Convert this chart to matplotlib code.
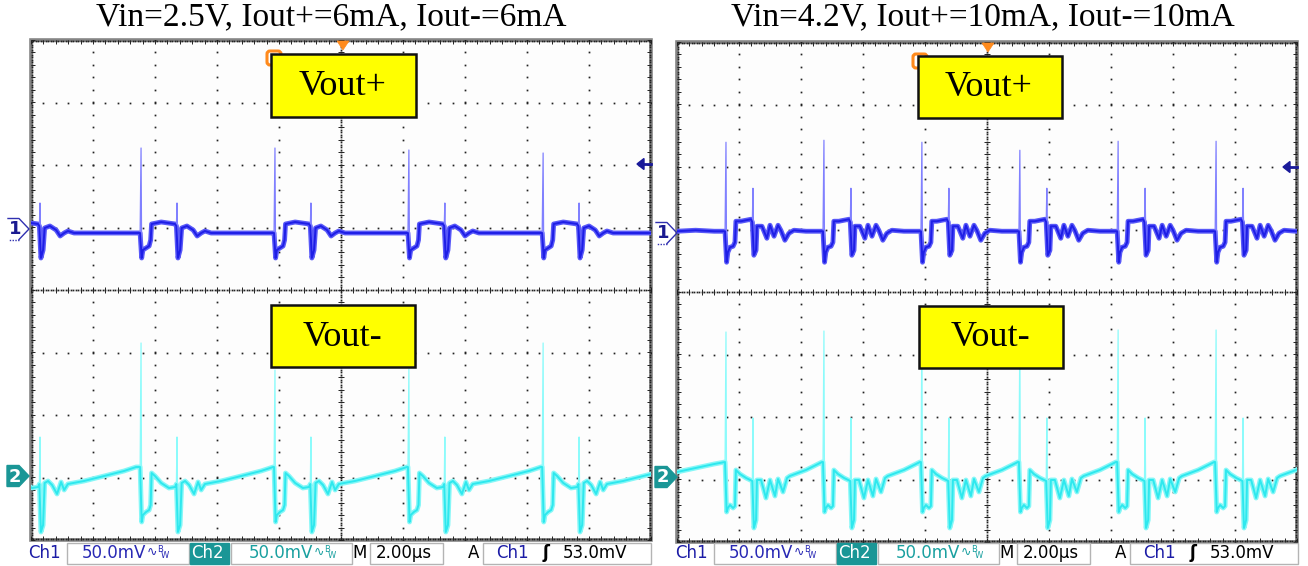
import numpy as np
import matplotlib
matplotlib.use("Agg")
import matplotlib.pyplot as plt
from matplotlib.patches import Rectangle, Polygon, FancyBboxPatch

# ---------------------------------------------------------------- data
titles = ["Vin=2.5V, Iout+=6mA, Iout-=6mA", "Vin=4.2V, Iout+=10mA, Iout-=10mA"]
box_labels = ["Vout+", "Vout-"]
volts_per_div_mv = 50.0
time_per_div_us = 2.00
trigger_level_mv = 53.0
status_ch_scale = "50.0mV"
status_time = "2.00\u00b5s"
status_trig = "53.0mV"

# channel reference positions (divisions from screen centre)
left_offsets_div = [1.00, -3.00]
right_offsets_div = [0.94, -2.96]

# switching events (big spike instants, us from left edge of screen)
left_events_us = [-0.87, 3.55, 7.87, 12.19, 16.52]
right_events_us = [1.58, 4.74, 7.90, 11.06, 14.23, 17.39]

# lead-in of the right screen before its first visible event (us, mV)
right_lead_t = [0.00, 0.60, 1.20, 1.55]
right_ch1_lead_v = [1.6, 2.4, 1.6, 1.6]
right_ch2_lead_v = [4.0, 7.2, 10.4, 12.0]

# spike tops (mV) per event
left_ch1_big_mv = [63.6, 63.6, 63.6, 62.0, 59.6]
left_ch2_big_mv = [107.6, 107.6, 86.0, 86.8, 107.6]
right_ch1_big_mv = [72.8, 74.4, 72.8, 66.4, 73.6, 73.6]
right_ch2_big_mv = [116.0, 116.8, 113.6, 113.6, 117.6, 117.6]
left_ch1_small_mv = 19.6
left_ch2_small_mv = 32.4
right_ch1_small_mv = 36.0
right_ch2_small_mv = 47.2

# waveform shape after each event (us relative to event, mV); None = big spike top, "s" = small spike top
left_ch1_t = [-0.03, 0.00, 0.02, 0.06, 0.16, 0.26, 0.31, 0.34, 0.65, 1.10, 1.14, 1.16,
              1.19, 1.26, 1.31, 1.48, 1.68, 1.81, 1.94, 2.06, 2.26, 4.26]
left_ch1_v = [-4.4, None, -24.4, -18.0, -16.4, -14.8, -10.0, 2.8, 4.4, 2.8, 1.2, "s",
              -24.4, -18.0, -0.4, 1.2, -2.0, -6.8, -4.4, -2.8, -4.4, -4.4]

left_ch2_t = [-0.03, 0.00, 0.02, 0.06, 0.16, 0.26, 0.31, 0.34, 0.45, 0.65, 0.90, 1.10, 1.14,
              1.16, 1.19, 1.26, 1.31, 1.42, 1.55, 1.71, 1.84, 1.94, 2.06, 2.58, 3.23, 3.87, 4.26]
left_ch2_v = [8.4, None, -35.6, -30.0, -27.6, -26.0, -22.0, 3.6, 1.2, -4.4, -8.4, -7.6, -5.2,
              "s", -43.6, -38.0, -4.4, -2.8, -6.0, -13.2, -3.6, -10.0, -5.2, -2.8, 1.2, 5.2, 8.4]

right_ch1_t = [-0.03, 0.00, 0.02, 0.06, 0.13, 0.23, 0.29, 0.32, 0.48, 0.81, 0.85, 0.87, 0.90,
               0.97, 1.00, 1.16, 1.32, 1.42, 1.55, 1.68, 1.77, 1.90, 2.03, 2.19, 2.58, 3.10]
right_ch1_v = [1.6, None, -23.2, -15.2, -11.2, -10.4, -7.2, 9.6, 9.6, 11.2, 8.8, "s", -17.6,
               -13.6, 5.6, 5.6, -4.0, 6.4, -2.4, 6.4, 2.4, -5.6, 0.0, 2.4, 1.6, 1.6]

right_ch2_t = [-0.03, 0.00, 0.02, 0.06, 0.13, 0.23, 0.29, 0.32, 0.45, 0.65, 0.85, 0.87, 0.90,
               0.97, 1.00, 1.13, 1.29, 1.42, 1.58, 1.68, 1.84, 1.97, 2.06, 2.58, 3.10]
right_ch2_v = [12.0, None, -28.0, -24.8, -22.4, -24.8, -23.2, 5.6, 2.4, -0.8, -3.2, "s", -40.8,
               -34.4, -2.4, -2.4, -16.8, -2.4, -15.2, -1.6, -12.0, -0.8, 0.8, 5.6, 12.0]

# ---------------------------------------------------------------- style
W, H, DPI = 1308, 566, 100
CH1 = "#1e1ee6"; CH1_BAND = "#5858f8"; CH1_SPIKE = "#8080ff"
CH2 = "#2ee8ee"; CH2_BAND = "#86f7f7"; CH2_SPIKE = "#8cfbfb"
CH1_TXT = "#1c1ca6"; CH2_TXT = "#1aa0a0"; CH2_BOX = "#1a9696"
ORANGE = "#ff8a1c"
GRID = "#222222"

fig = plt.figure(figsize=(W / DPI, H / DPI), dpi=DPI)
fig.patch.set_facecolor("white")


def build(events, shape_t, shape_v, big_tops, small_top, lead_t=(), lead_v=()):
    mt, mv, spikes = list(lead_t), list(lead_v), []
    for ev, top in zip(events, big_tops):
        for i, (dt, v) in enumerate(zip(shape_t, shape_v)):
            if v is None or v == "s":
                tv = top if v is None else small_top
                spikes.append(([ev + shape_t[i - 1], ev + dt, ev + shape_t[i + 1]],
                               [shape_v[i - 1], tv, shape_v[i + 1]]))
                continue
            mt.append(ev + dt)
            mv.append(v)
    return np.array(mt), np.array(mv), spikes


def draw_grid(ax):
    dot = dict(ls="none", marker="s", ms=1.25, mew=0, color=GRID, zorder=1)
    mx = np.arange(0, 20.001, 0.4)
    my = np.arange(-4, 4.001, 0.2)
    for gx in np.arange(2, 19, 2):
        if gx != 10:
            ax.plot(np.full_like(my, gx), my, **dot)
    for gy in range(-3, 4):
        if gy != 0:
            ax.plot(mx, np.full_like(mx, gy), **dot)
    fx = np.arange(0, 20.001, 0.08)
    fy = np.arange(-4, 4.001, 0.04)
    ax.plot(fx, np.zeros_like(fx), **dot)
    ax.plot(np.full_like(fy, 10), fy, **dot)
    tick = dict(ls="none", color=GRID, mew=0.7, zorder=1, clip_on=False)
    ax.plot(mx, np.zeros_like(mx), marker="|", ms=4, **tick)
    ax.plot(np.full_like(my, 10), my, marker="_", ms=4, **tick)
    # edge ticks
    ax.plot(mx, np.full_like(mx, 3.97), marker="|", ms=3, **tick)
    ax.plot(mx, np.full_like(mx, -3.97), marker="|", ms=3, **tick)
    ax.plot(np.full_like(my, 0.06), my, marker="_", ms=3, **tick)
    ax.plot(np.full_like(my, 19.94), my, marker="_", ms=3, **tick)
    ax.plot(fx, np.full_like(fx, 3.985), **dot)
    ax.plot(fx, np.full_like(fx, -3.985), **dot)
    ax.plot(np.full_like(fy, 0.03), fy, **dot)
    ax.plot(np.full_like(fy, 19.97), fy, **dot)


def draw_trace(ax, t, v, spikes, off, core, band, spk):
    y = off + v / volts_per_div_mv
    ax.plot(t, y, color=band, lw=3.5, solid_joinstyle="round", zorder=3)
    ax.plot(t, y, color=core, lw=1.4, solid_joinstyle="round", zorder=4)
    for st, sv in spikes:
        ax.plot(st, off + np.array(sv) / volts_per_div_mv, color=spk, lw=0.9, zorder=3.5)


def screen(rect_px, events, offs, ch1, ch2):
    x0, y0, w, h = rect_px
    ax = fig.add_axes([x0 / W, 1 - (y0 + h) / H, w / W, h / H])
    ax.set_xlim(0, 10 * time_per_div_us)
    ax.set_ylim(-4, 4)
    ax.axis("off")
    ax.add_patch(Rectangle((0, 0), 1, 1, transform=ax.transAxes, facecolor="#fdfdfd",
                           edgecolor="#858585", lw=2.6, zorder=0, clip_on=False))
    draw_grid(ax)
    t1, v1, s1 = build(events, *ch1)
    t2, v2, s2 = build(events, *ch2)
    draw_trace(ax, t1, v1, s1, offs[0], CH1, CH1_BAND, CH1_SPIKE)
    draw_trace(ax, t2, v2, s2, offs[1], CH2, CH2_BAND, CH2_SPIKE)
    return ax


screen((31, 40, 620, 500), left_events_us, left_offsets_div,
       (left_ch1_t, left_ch1_v, left_ch1_big_mv, left_ch1_small_mv),
       (left_ch2_t, left_ch2_v, left_ch2_big_mv, left_ch2_small_mv))
screen((677, 42, 620, 500), right_events_us, right_offsets_div,
       (right_ch1_t, right_ch1_v, right_ch1_big_mv, right_ch1_small_mv,
        right_lead_t, right_ch1_lead_v),
       (right_ch2_t, right_ch2_v, right_ch2_big_mv, right_ch2_small_mv,
        right_lead_t, right_ch2_lead_v))

# ---------------------------------------------------------------- overlay (pixel coords)
ov = fig.add_axes([0, 0, 1, 1], zorder=10)
ov.set_xlim(0, W)
ov.set_ylim(H, 0)
ov.axis("off")
ov.patch.set_alpha(0)

SERIF = ["Liberation Serif", "DejaVu Serif"]
SANS = ["DejaVu Sans"]

panels = [
    dict(dx=0, dy=0, cx=331, ch1y=229, ch2y=476, trig_y=164,
         vplus=(271, 54, 145, 63), vminus=(271, 305, 144, 62), brk=(267, 51), tri=343, sx=0),
    dict(dx=646, dy=2, cx=983, ch1y=233, ch2y=477, trig_y=167,
         vplus=(918, 56, 144, 62), vminus=(919, 306, 144, 62), brk=(913, 54), tri=988, sx=647),
]

for p, title in zip(panels, titles):
    ov.text(p["cx"], 17, title, ha="center", va="center", fontsize=24, family=SERIF, color="black")
    # orange horizontal position bracket (under box)
    bx, by = p["brk"]
    ov.add_patch(FancyBboxPatch((bx, by), 14, 14, boxstyle="round,pad=0,rounding_size=3",
                                facecolor="white", edgecolor=ORANGE, lw=2.2, zorder=2))
    # trigger position triangle
    tx = p["tri"]
    ty = 41 + p["dy"]
    ov.add_patch(Polygon([(tx - 6, ty), (tx + 6, ty), (tx, ty + 9)], closed=True,
                         facecolor=ORANGE, edgecolor=ORANGE, lw=0.5, zorder=3))
    # yellow label boxes
    for (x, y, w, h), lab in zip([p["vplus"], p["vminus"]], box_labels):
        ov.add_patch(Rectangle((x, y), w, h, facecolor="#ffff00", edgecolor="#111111",
                               lw=1.8, zorder=4))
        ov.text(x + w / 2 - 1, y + h / 2 + 1, lab, ha="center", va="center", fontsize=26,
                family=SERIF, color="black", zorder=5)
    # channel 1 marker (outlined)
    x0 = 8 + p["dx"] + (2 if p["dx"] else 0)
    cy = p["ch1y"]
    ov.plot([x0, x0 + 11, x0 + 21, x0 + 11], [cy - 10.5, cy - 10.5, cy, cy + 10.5],
            color="#3030b0", lw=1.0, zorder=5)
    ov.plot([x0 + 11, x0], [cy + 10.5, cy + 10.5], color="#3030b0", lw=1.0, ls=(0, (1, 1)), zorder=5)
    ov.text(x0 + 7, cy + 0.5, "1", ha="center", va="center", fontsize=13, fontweight="bold",
            color="#1a1a90", family=SANS, zorder=6)
    # channel 2 marker (filled)
    x2 = 7 + p["dx"] + (2 if p["dx"] else 0)
    cy2 = p["ch2y"]
    ov.add_patch(Polygon([(x2, cy2 - 10.5), (x2 + 12, cy2 - 10.5), (x2 + 22, cy2),
                          (x2 + 12, cy2 + 10.5), (x2, cy2 + 10.5)], closed=True,
                         facecolor=CH2_BOX, edgecolor=CH2_BOX, zorder=5))
    ov.text(x2 + 8, cy2 + 0.5, "2", ha="center", va="center", fontsize=13, fontweight="bold",
            color="white", family=SANS, zorder=6)
    # trigger level arrow
    ax_r = 651 + p["dx"]
    ty2 = p["trig_y"]
    ov.add_patch(Polygon([(ax_r - 14, ty2), (ax_r - 7, ty2 - 5.5), (ax_r - 7, ty2 + 5.5)],
                         closed=True, facecolor="#1a1a9a", edgecolor="#1a1a9a", zorder=6))
    ov.plot([ax_r - 8, ax_r], [ty2, ty2], color="#1a1a9a", lw=2, zorder=6)

    # status bar
    s = p["sx"]
    yb, hb, yt = 543, 21, 553.5
    fs = 12
    def box(x1, x2):
        ov.add_patch(Rectangle((x1 + s, yb), x2 - x1, hb, facecolor="white",
                               edgecolor="#b4b4b4", lw=1.0, zorder=2))
    box(67, 189)
    box(231, 352)
    box(370, 443)
    box(483, 651)
    ov.add_patch(Rectangle((190 + s, yb), 39, hb, facecolor=CH2_BOX, edgecolor=CH2_BOX, zorder=2))
    ov.text(28 + s, yt, "Ch1", ha="left", va="center", fontsize=fs, color=CH1_TXT, family=SANS, zorder=3)
    ov.text(82 + s, yt, status_ch_scale, ha="left", va="center", fontsize=fs, color="#2828b4",
            family=SANS, zorder=3)
    ov.text(191 + s, yt, "Ch2", ha="left", va="center", fontsize=fs, color="white", family=SANS, zorder=3)
    ov.text(249 + s, yt, status_ch_scale, ha="left", va="center", fontsize=fs, color=CH2_TXT,
            family=SANS, zorder=3)
    for xx, col in [(147, "#2828b4"), (314, CH2_TXT)]:
        ov.text(xx + s, yt - 1, "\u223f", ha="left", va="center", fontsize=9, color=col,
                family=SANS, zorder=3)
        ov.text(xx + 10 + s, yt - 3.5, "B", ha="left", va="center", fontsize=6, color=col,
                family=SANS, zorder=3)
        ov.text(xx + 14 + s, yt + 2, "W", ha="left", va="center", fontsize=6, color=col,
                family=SANS, zorder=3)
    ov.text(352 + s, yt, "M", ha="left", va="center", fontsize=fs, color="black", family=SANS, zorder=3)
    ov.text(376 + s, yt, status_time, ha="left", va="center", fontsize=fs, color="black",
            family=SANS, zorder=3)
    ov.text(468 + s, yt, "A", ha="left", va="center", fontsize=fs, color="black", family=SANS, zorder=3)
    ov.text(496 + s, yt, "Ch1", ha="left", va="center", fontsize=fs, color=CH1_TXT, family=SANS, zorder=3)
    ov.text(543 + s, yt, "\u0283", ha="left", va="center", fontsize=12, fontweight="bold",
            color="black", family=SANS, zorder=3)
    ov.text(563 + s, yt, status_trig, ha="left", va="center", fontsize=fs, color="black",
            family=SANS, zorder=3)

fig.savefig("out.png", dpi=DPI, facecolor="white")
